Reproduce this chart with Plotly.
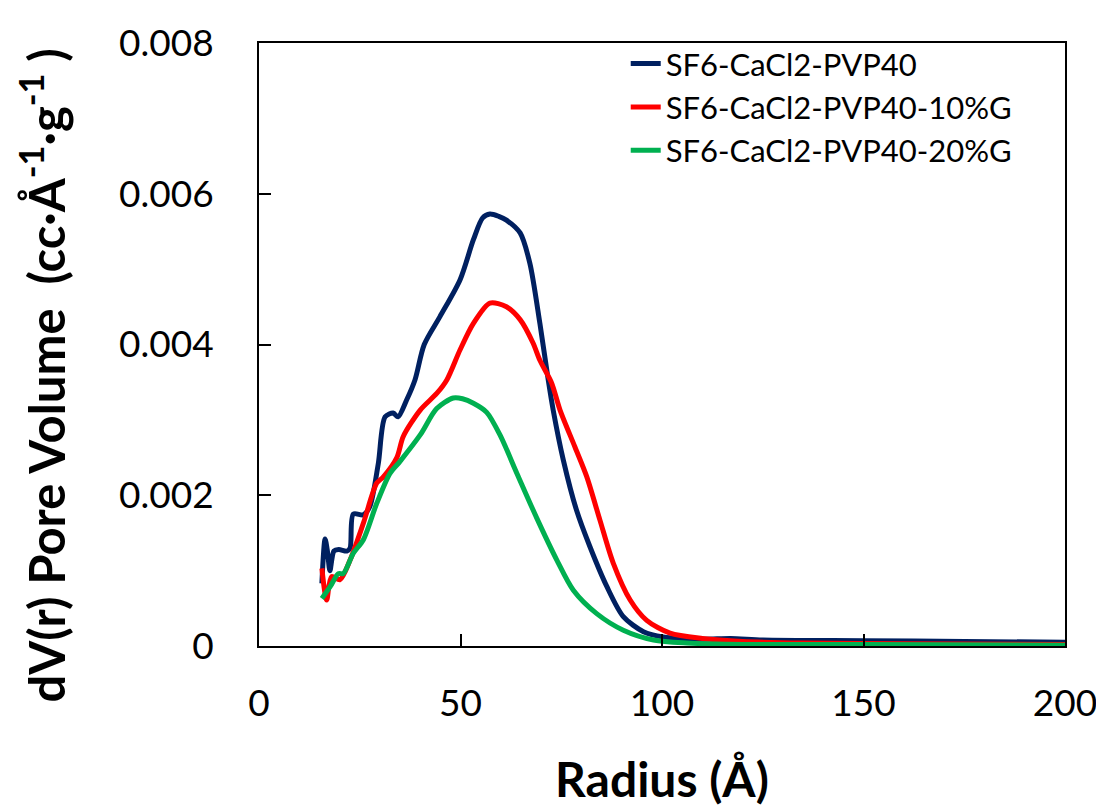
import plotly.graph_objects as go

# Radius (Å)
blue_x = [15.6, 16.4, 17.0, 17.6, 18.6, 19.8, 21.8, 22.6, 23.4, 25.9, 27.5, 29.6, 31.3, 33.3, 34.5,
          36.6, 38.7, 41.0, 44.9, 49.9, 53.2, 55.5, 57.3, 59.5, 61.4, 64.8, 67.2, 69.7, 71.8, 73.0,
          75.5, 78.8, 82.1, 86.3, 90.4, 95.4, 100.3, 110.0, 117.0, 125.0, 150.0, 175.0, 200.0]
blue_y = [0.00083, 0.00142, 0.00125, 0.00100, 0.00126, 0.00128, 0.00126, 0.00130, 0.00175, 0.00174,
          0.00185, 0.00242, 0.00304, 0.00309, 0.00304, 0.00326, 0.00353, 0.00400, 0.00437, 0.00486,
          0.00539, 0.00568, 0.00573, 0.00570, 0.00565, 0.00548, 0.00508, 0.00428, 0.00352, 0.00313,
          0.00247, 0.00180, 0.00132, 0.00079, 0.00039, 0.00019, 0.00012, 0.00009, 0.00010, 0.00008,
          0.00007, 0.00006, 0.00005]

red_x = [15.6, 16.8, 18.0, 20.1, 22.6, 25.9, 29.2, 30.8, 34.2, 35.8, 40.0, 44.1, 46.6, 49.9, 53.2,
         57.3, 61.4, 64.8, 68.0, 69.7, 72.6, 74.7, 78.4, 81.3, 84.6, 87.9, 92.1, 96.2, 102.0, 110.0,
         120.0, 135.0, 160.0, 200.0]
red_y = [0.00103, 0.00061, 0.00092, 0.00088, 0.00114, 0.00163, 0.00216, 0.00224, 0.00250, 0.00278,
         0.00313, 0.00335, 0.00353, 0.00393, 0.00428, 0.00455, 0.00450, 0.00433, 0.00402, 0.00379,
         0.00349, 0.00313, 0.00264, 0.00225, 0.00167, 0.00110, 0.00061, 0.00034, 0.00017, 0.00010,
         0.00006, 0.00004, 0.00003, 0.00002]

green_x = [15.6, 17.7, 19.7, 20.9, 23.4, 25.9, 29.2, 32.5, 35.0, 40.0, 44.1, 48.2, 50.5, 53.2, 56.5,
           59.8, 64.0, 68.9, 73.9, 78.0, 83.8, 90.4, 97.9, 106.1, 120.0, 150.0, 200.0]
green_y = [0.00063, 0.00079, 0.00096, 0.00096, 0.00123, 0.00141, 0.00189, 0.00229, 0.00245, 0.00280,
           0.00315, 0.00329, 0.00328, 0.00322, 0.00310, 0.00280, 0.00229, 0.00170, 0.00114, 0.00074,
           0.00043, 0.00021, 0.00008, 0.00004, 0.00002, 0.00002, 0.00001]

series_names = ["SF6-CaCl2-PVP40", "SF6-CaCl2-PVP40-10%G", "SF6-CaCl2-PVP40-20%G"]
series_colors = ["#002060", "#FF0000", "#00B050"]

FONT = "Lato"

fig = go.Figure()
for xs, ys, name, col in zip([blue_x, red_x, green_x], [blue_y, red_y, green_y],
                             series_names, series_colors):
    fig.add_trace(go.Scatter(x=xs, y=ys, name=name, mode="lines",
                             line=dict(color=col, width=5, shape="spline", smoothing=0.8)))

axis_common = dict(showline=True, linecolor="black", linewidth=2, mirror=True,
                   ticks="inside", tickcolor="black", tickwidth=2, ticklen=12,
                   showgrid=False, zeroline=False,
                   tickfont=dict(family=FONT, size=37, color="black"))

fig.update_layout(
    width=1104, height=809,
    margin=dict(l=251, r=47, t=35, b=171),
    paper_bgcolor="white", plot_bgcolor="white",
    font=dict(family=FONT, color="black"),
    showlegend=True,
    legend=dict(x=0.455, y=1.01, xanchor="left", yanchor="top",
                bgcolor="rgba(0,0,0,0)", font=dict(family=FONT, size=31, color="black"),
                tracegroupgap=0),
    xaxis=dict(range=[0, 200], dtick=50, ticklabelstandoff=24,
               title=dict(text="<b>Radius (Å)</b>", standoff=40,
                          font=dict(family=FONT, size=48, color="black")),
               **axis_common),
    yaxis=dict(range=[0, 0.008], dtick=0.002, ticklabelstandoff=36,
               **axis_common),
    annotations=[dict(
        text="<b>dV(r) Pore Volume\u00a0\u00a0(cc·Å<sup>-1</sup>·g<sup>-1</sup> )</b>",
        xref="paper", yref="paper", x=-0.269, y=0.449,
        xanchor="center", yanchor="middle", textangle=-90, showarrow=False,
        font=dict(family=FONT, size=49, color="black"))],
)

fig.write_html("out.html")
